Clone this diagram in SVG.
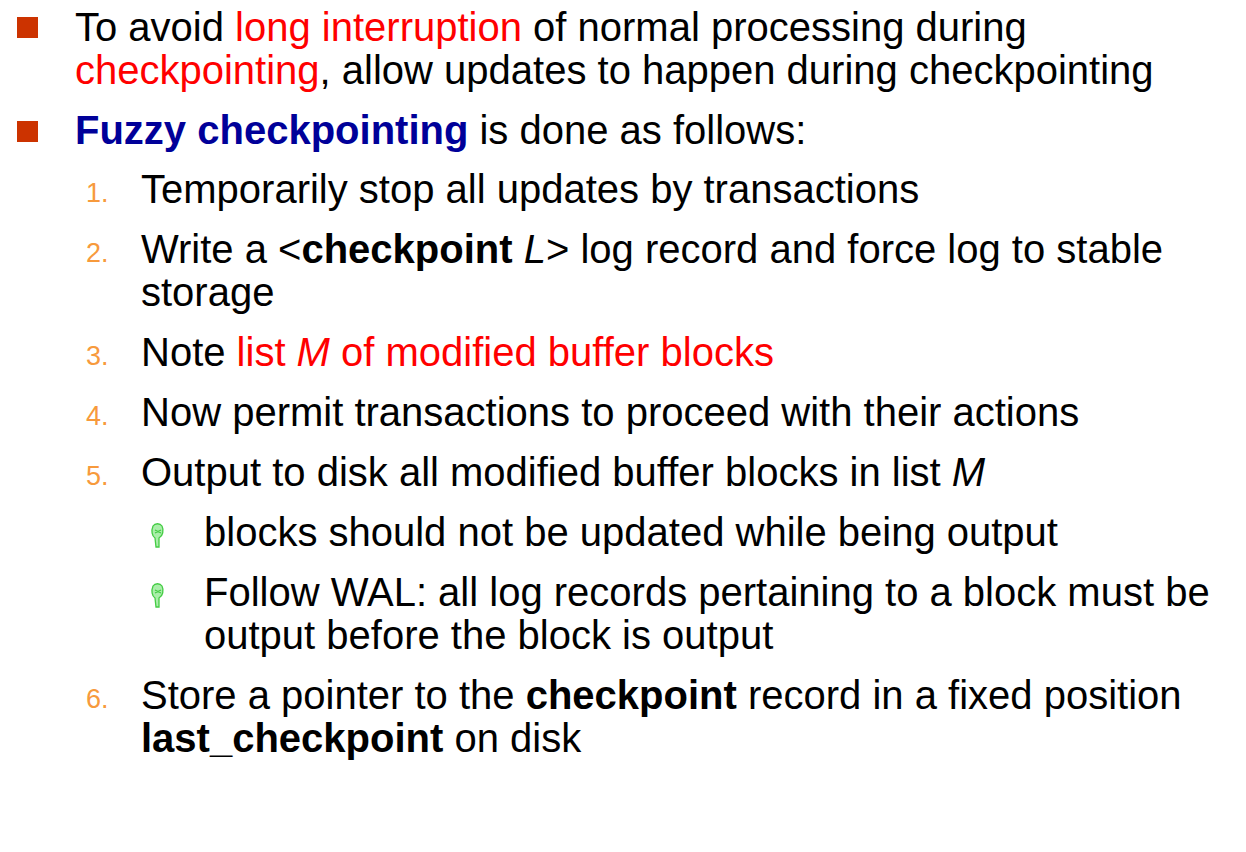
<svg xmlns="http://www.w3.org/2000/svg" width="1246" height="852" viewBox="0 0 1246 852">
<defs>
<style>
text{font-family:"Liberation Sans",Arial,sans-serif;font-size:40px;fill:#000}
.r{fill:#ff0000}.b{fill:#000099;font-weight:bold}.bo{font-weight:bold}.n{fill:#f79a3c;font-size:27px}
.sq{fill:#cc3300}
</style>
<g id="hand"><path d="M-4,-10 C-6,-5 -5,0 -2,2 L-1,11 L2,11 L2,2 C6,0 7,-6 5,-10 C3,-13 -2,-13 -4,-10 Z M-2,-6 L4,-3 M-2,-3 L4,-6" fill="#aaeeaa" stroke="#44cc44" stroke-width="1.3"/></g>
</defs>
<rect width="1246" height="852" fill="#fff"/>
<g id="b1"><rect class="sq" x="17" y="17" width="21" height="21"/>
<text x="75" y="41">To avoid <tspan class="r">long interruption</tspan> of normal processing during</text>
<text x="75" y="84"><tspan class="r">checkpointing</tspan>, allow updates to happen during checkpointing</text></g>
<g id="b2"><rect class="sq" x="17" y="121" width="21" height="21"/>
<text x="75" y="144"><tspan class="b">Fuzzy checkpointing</tspan> is done as follows:</text></g>
<g id="i1"><text class="n" x="86" y="202">1.</text><text x="141" y="203">Temporarily stop all updates by transactions</text></g>
<g id="i2"><text class="n" x="86" y="262">2.</text><text x="141" y="263">Write a &lt;<tspan class="bo">checkpoint</tspan> <tspan font-style="italic">L</tspan>&gt; log record and force log to stable</text>
<text x="141" y="306">storage</text></g>
<g id="i3"><text class="n" x="86" y="365">3.</text><text x="141" y="366">Note <tspan class="r">list <tspan font-style="italic">M</tspan> of modified buffer blocks</tspan></text></g>
<g id="i4"><text class="n" x="86" y="425">4.</text><text x="141" y="426">Now permit transactions to proceed with their actions</text></g>
<g id="i5"><text class="n" x="86" y="485">5.</text><text x="141" y="486">Output to disk all modified buffer blocks in list <tspan font-style="italic">M</tspan></text></g>
<g id="s1"><use href="#hand" x="157" y="536"/><text x="204" y="546">blocks should not be updated while being output</text></g>
<g id="s2"><use href="#hand" x="157" y="596"/><text x="204" y="606">Follow WAL: all log records pertaining to a block must be</text>
<text x="204" y="649">output before the block is output</text></g>
<g id="i6"><text class="n" x="86" y="708">6.</text><text x="141" y="709">Store a pointer to the <tspan class="bo">checkpoint</tspan> record in a fixed position</text>
<text x="141" y="752"><tspan class="bo">last_checkpoint</tspan> on disk</text></g>
</svg>
